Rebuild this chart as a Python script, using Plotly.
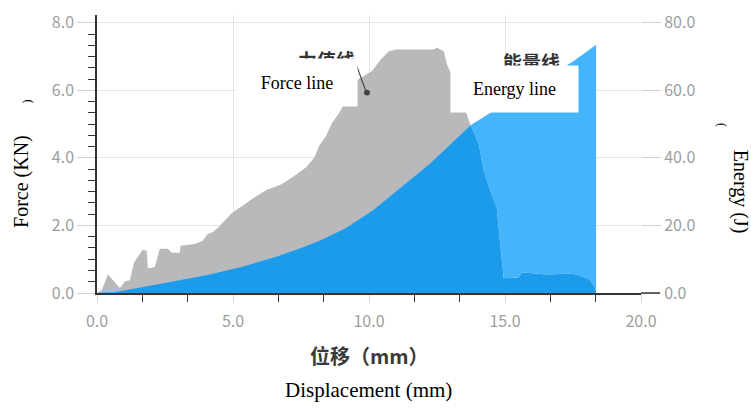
import numpy as np
import plotly.graph_objects as go

# ---- data ----
disp_force = [0, 0.18, 0.40, 0.84, 1.03, 1.21, 1.36, 1.68, 1.83, 1.87, 2.12, 2.31, 2.60, 2.75,
              3.04, 3.08, 3.59, 3.88, 4.07, 4.25, 4.43, 4.95, 5.31, 5.71, 6.23, 6.81, 7.18,
              7.69, 7.99, 8.17, 8.42, 8.64, 8.90, 9.52, 10.11, 10.44, 10.73, 10.99, 12.38,
              12.49, 12.75, 12.86, 13.30, 13.55, 13.74, 14.03, 14.18, 14.40, 14.69, 14.84,
              14.95, 15.49, 15.60, 16.34, 16.96, 17.44, 18.06, 18.32, 18.35]
force_kn = [0, 0.09, 0.55, 0.15, 0.35, 0.38, 0.90, 1.28, 1.25, 0.73, 0.76, 1.31, 1.31, 1.19,
            1.19, 1.40, 1.45, 1.54, 1.75, 1.80, 1.92, 2.36, 2.56, 2.79, 3.05, 3.23, 3.43,
            3.72, 4.01, 4.36, 4.65, 5.03, 5.32, 6.28, 6.57, 6.92, 7.16, 7.21, 7.21,
            7.27, 7.16, 6.78, 5.96, 5.41, 4.95, 4.45, 3.72, 3.14, 2.56, 1.25,
            0.44, 0.44, 0.61, 0.55, 0.55, 0.58, 0.44, 0.15, 0]

disp_energy = [0.5, 1, 2, 3, 4, 5, 6, 7, 8, 9, 10, 11, 12, 13, 13.7, 14.5, 15.5, 16.5, 17.5, 18.35]
energy_j = [0, 0.8, 2.2, 3.6, 5.2, 7.0, 9.2, 11.8, 14.8, 18.5, 23.5, 30, 36.5, 44, 49.5,
            53.5, 58.5, 63.5, 68.5, 73.5]

x_ticks = [0, 5, 10, 15, 20]
y_ticks = [0, 2, 4, 6, 8]
y2_ticks = [0, 20, 40, 60, 80]

# overlap of the two areas (force area below the energy curve), in energy units
xg = np.union1d(np.union1d(disp_force, disp_energy), np.linspace(0, max(disp_force), 900))
fg = np.interp(xg, disp_force, force_kn, left=0, right=0)
eg = np.interp(xg, disp_energy, energy_j, left=0, right=0)
overlap_j = np.minimum(fg * 10, eg)

GRAY = "#b9b8ba"
DARK_BLUE = "#1b9be9"
LIGHT_BLUE = "#45b5fb"

fig = go.Figure()
fig.add_trace(go.Scatter(x=disp_force, y=force_kn, mode="lines", line=dict(width=0),
                         fill="tozeroy", fillcolor=GRAY, hoverinfo="skip", showlegend=False))
fig.add_trace(go.Scatter(x=xg, y=overlap_j / 10, mode="lines", line=dict(width=0),
                         fill="tozeroy", fillcolor=DARK_BLUE, hoverinfo="skip", showlegend=False))
fig.add_trace(go.Scatter(x=xg, y=overlap_j, mode="lines", line=dict(width=0),
                         yaxis="y2", hoverinfo="skip", showlegend=False))
fig.add_trace(go.Scatter(x=disp_energy, y=energy_j, mode="lines", line=dict(width=0),
                         fill="tonexty", fillcolor=LIGHT_BLUE, yaxis="y2",
                         hoverinfo="skip", showlegend=False))

W, H = 751, 409
L, R, T, B = 97, 641, 10, 293


def px(x):
    return (x - L) / (R - L)


def py(y):
    return (B - y) / (B - T)


tickfont = dict(family="Noto Sans CJK SC", size=16, color="#9e9e9e")
serif = "Liberation Serif"
cjk = "Noto Sans CJK SC"

fig.update_layout(
    width=W, height=H,
    margin=dict(l=L, r=W - R, t=T, b=H - B),
    paper_bgcolor="white", plot_bgcolor="white",
    xaxis=dict(range=[0, 20], tickvals=x_ticks, tickformat=".1f", ticks="outside",
               ticklen=8, tickcolor="#d6d6d6", showline=True, linecolor="#333333",
               linewidth=1.5, showgrid=True, gridcolor="#e6e6e6", zeroline=False,
               tickfont=tickfont, ticklabelstandoff=5,
               minor=dict(dtick=5 / 3, tick0=0, ticks="outside", ticklen=7,
                          tickcolor="#333333", showgrid=False)),
    yaxis=dict(range=[0, 8.23], tickvals=y_ticks, tickformat=".1f", ticks="outside",
               ticklen=18, tickcolor="#d0d0d0", showline=True, linecolor="#333333",
               linewidth=1.5, showgrid=True, gridcolor="#e6e6e6", zeroline=False,
               tickfont=tickfont,
               minor=dict(dtick=1 / 3, tick0=0, ticks="outside", ticklen=7,
                          tickcolor="#333333", showgrid=False)),
    yaxis2=dict(range=[0, 82.3], tickvals=y2_ticks, tickformat=".1f", overlaying="y",
                side="right", ticks="outside", ticklen=19, tickcolor="#d0d0d0",
                showline=False, showgrid=False, zeroline=False, tickfont=tickfont),
    shapes=[
        dict(type="line", xref="paper", yref="paper", x0=1, x1=px(660), y0=0, y1=0,
             line=dict(color="#333333", width=1.5), layer="above"),
        dict(type="line", xref="paper", yref="paper", x0=px(355), y0=py(57),
             x1=px(366), y1=py(88), line=dict(color="#444444", width=1.2), layer="above"),
        dict(type="circle", xref="paper", yref="paper", x0=px(364), x1=px(370),
             y0=py(86), y1=py(92), fillcolor="#444444", line=dict(width=0), layer="above"),
    ],
    annotations=[
        dict(text="<b>力值线</b>", x=px(326), y=py(55), xref="paper", yref="paper", showarrow=False,
             font=dict(family=cjk, size=19, color="#333333"),
             xanchor="center", yanchor="middle"),
        dict(text="<b>能量线</b>", x=px(531), y=py(57), xref="paper", yref="paper", showarrow=False,
             font=dict(family=cjk, size=19, color="#333333"),
             xanchor="center", yanchor="middle"),
        dict(text="Force line", x=px(297), y=py(78.5), xref="paper", yref="paper",
             showarrow=False, bgcolor="white", width=120, height=47, borderpad=0,
             font=dict(family=serif, size=18, color="black"),
             xanchor="center", yanchor="middle"),
        dict(text="Energy line", x=px(514.5), y=py(85), xref="paper", yref="paper",
             showarrow=False, bgcolor="white", width=127, height=46, borderpad=0,
             font=dict(family=serif, size=18, color="black"),
             xanchor="center", yanchor="middle"),
        dict(text="位移（mm）", x=px(369), y=py(357), xref="paper", yref="paper",
             showarrow=False, font=dict(family=cjk, size=20, color="#3a3a3a", weight=600),
             xanchor="center", yanchor="middle"),
        dict(text="Displacement (mm)", x=px(368), y=py(392), xref="paper", yref="paper",
             showarrow=False, font=dict(family=serif, size=21, color="black"),
             xanchor="center", yanchor="middle"),
        dict(text="Force (KN)", x=px(22), y=py(180), xref="paper", yref="paper",
             showarrow=False, textangle=-90, font=dict(family=serif, size=20, color="black"),
             xanchor="center", yanchor="middle"),
        dict(text=")", x=px(27), y=py(98), xref="paper", yref="paper",
             showarrow=False, textangle=-90, font=dict(family=serif, size=12, color="black"),
             xanchor="center", yanchor="middle"),
        dict(text="Energy (J)", x=px(740), y=py(190), xref="paper", yref="paper",
             showarrow=False, textangle=90, font=dict(family=serif, size=20, color="black"),
             xanchor="center", yanchor="middle"),
        dict(text="(", x=px(722), y=py(122), xref="paper", yref="paper",
             showarrow=False, textangle=90, font=dict(family=serif, size=12, color="black"),
             xanchor="center", yanchor="middle"),
    ],
)

fig.write_html("out.html", post_script="document.body.style.margin='0';",
               config={"displayModeBar": False})
